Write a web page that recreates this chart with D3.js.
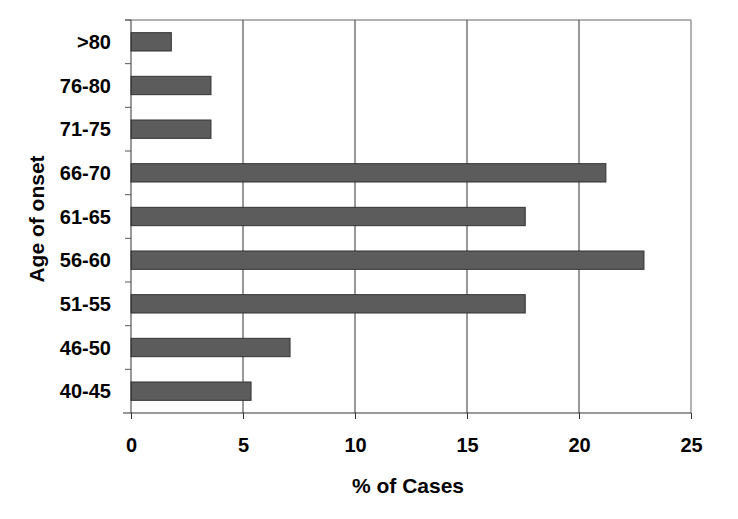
<!DOCTYPE html>
<html><head><meta charset="utf-8">
<script src="https://cdn.jsdelivr.net/npm/d3@7"></script>
<style>body{margin:0;background:#fff}svg{display:block}text{font-family:"Liberation Sans",Arial,sans-serif;font-weight:bold;fill:#000}</style>
</head><body><svg id="c" width="738" height="519"></svg>
<script>
const categories = [">80","76-80","71-75","66-70","61-65","56-60","51-55","46-50","40-45"];
const values = [1.8,3.57,3.57,21.2,17.6,22.9,17.6,7.1,5.36];
const xTicks = [0,5,10,15,20,25];

const svg = d3.select("#c");
const m = {l:131, r:691, t:20, b:413};
const x = d3.scaleLinear().domain([0,25]).range([m.l,m.r]);
const y = d3.scaleBand().domain(categories).range([m.t,m.b]).paddingInner(0.58).paddingOuter(0.29);
const yb = d3.scaleBand().domain(categories).range([m.t,m.b]);

// frame top and right
svg.append("line").attr("x1",125).attr("x2",m.r).attr("y1",m.t).attr("y2",m.t).attr("stroke","#999").attr("stroke-width",1.5);
// grid
svg.append("g").selectAll("line").data(xTicks.filter(d=>d>0)).join("line")
  .attr("x1",d=>x(d)).attr("x2",d=>x(d)).attr("y1",m.t).attr("y2",m.b)
  .attr("stroke",d=>d===25?"#999":"#333").attr("stroke-width",d=>d===25?1.5:1);

// bars
svg.append("g").selectAll("rect").data(categories).join("rect")
  .attr("x",x(0)).attr("y",d=>y(d)).attr("height",y.bandwidth())
  .attr("width",(d,i)=>x(values[i])-x(0))
  .attr("fill","#5c5c5c").attr("stroke","#333").attr("stroke-width",1);

// y axis
const ya = svg.append("g").attr("transform",`translate(${m.l},0)`);
ya.append("line").attr("x1",0).attr("x2",0).attr("y1",m.t).attr("y2",m.b).attr("stroke","#333");
ya.selectAll("line.t").data(categories).join("line").attr("class","t")
  .attr("x1",-6).attr("x2",0).attr("y1",d=>yb(d)).attr("y2",d=>yb(d)).attr("stroke","#555");
ya.selectAll("text").data(categories).join("text")
  .attr("x",-20).attr("y",d=>yb(d)+yb.bandwidth()/2).attr("dy","0.36em")
  .attr("text-anchor","end").attr("font-size",20).text(d=>d);

// x axis
const xa = svg.append("g").attr("transform",`translate(0,${m.b})`)
  .call(d3.axisBottom(x).tickValues(xTicks).tickSize(6));
xa.select(".domain").attr("d",`M123,0H${m.r}`).attr("stroke","#333");
xa.selectAll(".tick line").attr("stroke","#333");
xa.selectAll(".tick text").attr("y",39).attr("dy",0).attr("font-size",20).attr("font-family","Liberation Sans, Arial, sans-serif").attr("font-weight","bold").attr("fill","#000");

svg.append("text").attr("x",408).attr("y",493).attr("text-anchor","middle").attr("font-size",21).text("% of Cases");
svg.append("text").attr("transform","translate(44,219) rotate(-90)").attr("text-anchor","middle").attr("font-size",21).text("Age of onset");
</script></body></html>
